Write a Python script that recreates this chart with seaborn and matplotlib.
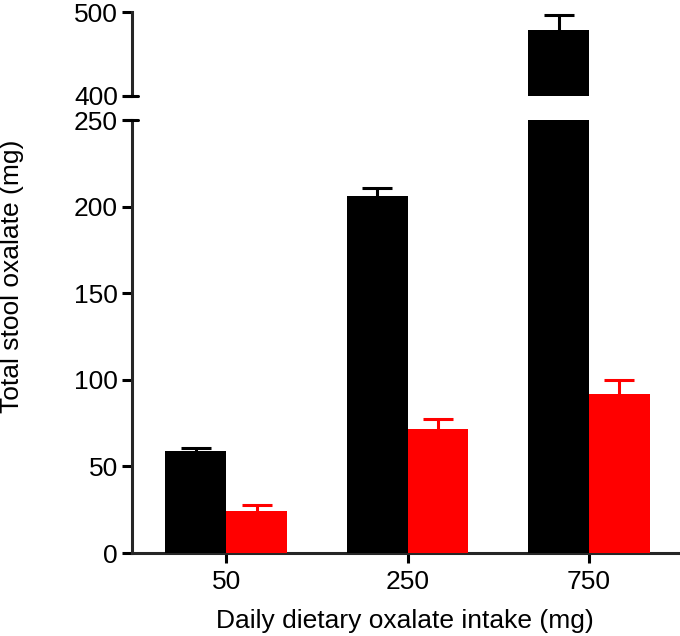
import matplotlib
matplotlib.use("Agg")
import matplotlib.pyplot as plt
import seaborn as sns
import pandas as pd
import numpy as np

doses = ["50", "250", "750"]
groups = ["A", "B"]
means_a = [59, 206, 478]
errs_a = [1.5, 5, 18]
means_b = [24.4, 71.4, 92]
errs_b = [3.3, 5.8, 8]
colors = ["#000000", "#ff0000"]

df = pd.DataFrame({
    "dose": doses * 2,
    "group": [groups[0]] * 3 + [groups[1]] * 3,
    "value": means_a + means_b,
    "err": errs_a + errs_b,
})

sns.set_theme(style="ticks")
plt.rcParams["font.family"] = ["Liberation Sans", "DejaVu Sans"]
plt.rcParams["text.color"] = "black"
plt.rcParams["axes.labelcolor"] = "black"

FS = 19

fig = plt.figure(figsize=(6.8, 6.36), dpi=100)
ax_top = fig.add_axes([0.194, 0.8495, 0.803, 0.1316])
ax_bot = fig.add_axes([0.194, 0.1305, 0.803, 0.6808])

for ax in (ax_top, ax_bot):
    sns.barplot(data=df, x="dose", y="value", hue="group", order=doses,
                hue_order=groups, palette=colors, width=0.67, gap=0,
                errorbar=None, ax=ax, legend=False, saturation=1,
                edgecolor="none", linewidth=0)
    for p in ax.patches:
        p.set_zorder(3)
    # error bars (upper only; lower cap hidden)
    for container, g in zip(ax.containers, groups):
        sub = df[df["group"] == g].set_index("dose").loc[doses]
        xs = [p.get_x() + p.get_width() / 2 for p in container.patches]
        eb = ax.errorbar(xs, sub["value"].values,
                         yerr=[np.zeros(len(xs)), sub["err"].values],
                         fmt="none", ecolor=colors[groups.index(g)],
                         elinewidth=2.2, capsize=11, capthick=2.2, zorder=1)
        eb[1][0].set_visible(False)
    ax.set_xlim(-0.52, 2.49)
    ax.spines["right"].set_visible(False)
    ax.spines["top"].set_visible(False)
    ax.spines["left"].set_linewidth(2.2)
    ax.spines["bottom"].set_linewidth(2.2)
    ax.spines["left"].set_zorder(4)
    ax.tick_params(axis="both", width=2.2, length=7, labelsize=FS,
                   colors="black", pad=3)
    ax.set_xlabel("")
    ax.set_ylabel("")

ax_top.set_ylim(400, 500)
ax_top.set_yticks([400, 500])
ax_top.spines["bottom"].set_visible(False)
ax_top.tick_params(axis="x", bottom=False, labelbottom=False)

ax_bot.set_ylim(0, 250)
ax_bot.set_yticks([0, 50, 100, 150, 200, 250])
ax_bot.tick_params(axis="x", pad=5)

# break marks crossing the left spine
for ax, yv in ((ax_top, 0.0), (ax_bot, 1.0)):
    ax.plot([-0.014, 0.012], [yv, yv], transform=ax.transAxes,
            color="black", lw=2.2, clip_on=False, zorder=5)

ax_bot.set_xlabel("Daily dietary oxalate intake (mg)", fontsize=FS,
                  labelpad=11, color="black")
fig.text(0.0, 0.565, "Total stool oxalate (mg)", rotation=90,
         fontsize=FS, va="center", ha="left", color="black")

fig.savefig("out.png", dpi=100)
